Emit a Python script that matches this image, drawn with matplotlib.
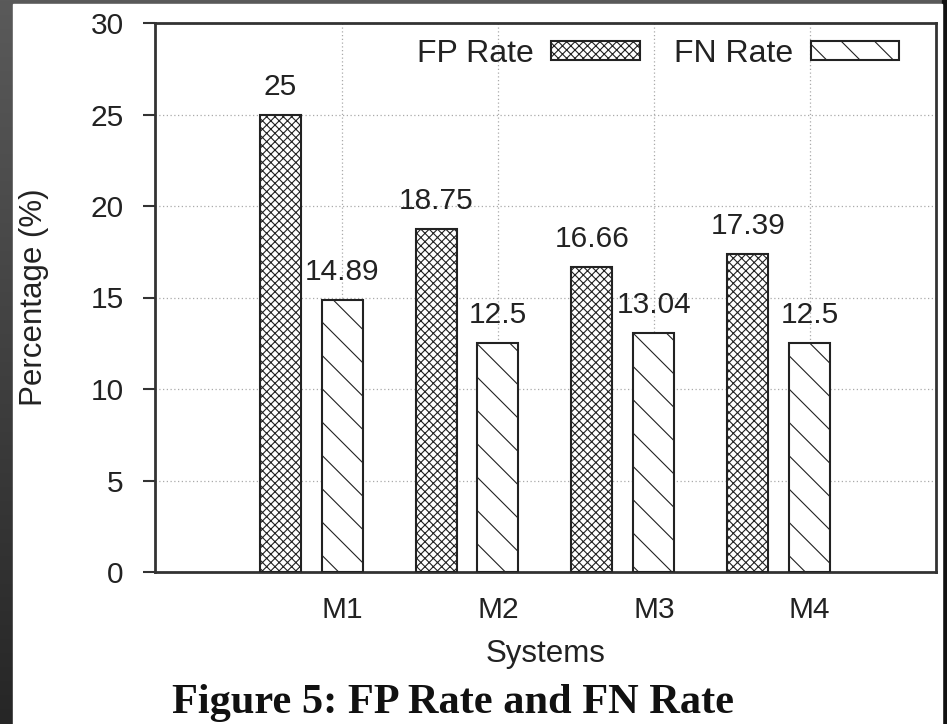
import numpy as np
import matplotlib
matplotlib.use('Agg')
import matplotlib.pyplot as plt
from matplotlib.patches import Rectangle

plt.rcParams['font.family'] = ['Liberation Sans', 'DejaVu Sans']
plt.rcParams['hatch.linewidth'] = 0.8

# values
systems = ['M1', 'M2', 'M3', 'M4']
fp_rate = [25, 18.75, 16.66, 17.39]
fn_rate = [14.89, 12.5, 13.04, 12.5]
yticks = [0, 5, 10, 15, 20, 25, 30]

W, H = 947, 724
fig = plt.figure(figsize=(W / 100, H / 100), dpi=100)

# dark photo border + white page behind the plot
bg = fig.add_axes([0, 0, 1, 1], zorder=-10)
grad = np.linspace(0, 1, 256).reshape(-1, 1)
bg.imshow(grad, cmap=matplotlib.colors.LinearSegmentedColormap.from_list('bd', ['#5a5a5a', '#262626']),
          extent=[0, W, H, 0], aspect='auto')
bg.add_patch(Rectangle((942, 0), 5, H, color='#111111'))
bg.add_patch(Rectangle((13, 4), 929, H - 4, color='white'))
bg.set_xlim(0, W)
bg.set_ylim(H, 0)
bg.axis('off')

# main axes (pixel box measured on the reference)
left, right, top, bottom = 155, 936, 23, 572
ax = fig.add_axes([left / W, (H - bottom) / H, (right - left) / W, (bottom - top) / H])

x = np.arange(len(systems))
off = 0.397
width = 0.263
txt = '#222222'
fs = 21.5

ax.bar(x - off, fp_rate, width, color='white', edgecolor='#222222', hatch='xxxx',
       linewidth=1.5, label='FP Rate', zorder=3)
ax.bar(x, fn_rate, width, color='white', edgecolor='#222222', hatch='\\',
       linewidth=1.5, label='FN Rate', zorder=3)

for xs, vals in [(x - off, fp_rate), (x, fn_rate)]:
    for xi, v in zip(xs, vals):
        ax.annotate(f'{v:g}', (xi, v), xytext=(0, 10), textcoords='offset points',
                    ha='center', va='bottom', fontsize=fs, color=txt)

ax.set_xlim(-1.2, 3.81)
ax.set_ylim(0, 30)
ax.set_yticks(yticks)
ax.set_xticks(x)
ax.set_xticklabels(systems)
ax.tick_params(axis='y', direction='out', length=8.6, width=1.5, pad=14,
               labelsize=fs, labelcolor=txt, color='#333333')
ax.tick_params(axis='x', length=0, pad=17, labelsize=fs, labelcolor=txt)

ax.grid(True, linestyle=(0, (1, 2)), color='#aaaaaa', linewidth=0.9)
ax.set_axisbelow(True)
for s in ax.spines.values():
    s.set_linewidth(2)
    s.set_color('#333333')

ax.set_ylabel('Percentage (%)', fontsize=22.5, color=txt)
ax.yaxis.set_label_coords(-0.136, 0.5)
ax.set_xlabel('Systems', fontsize=22.5, color=txt, va='top')
ax.xaxis.set_label_coords(0.5, -0.122)

ax.legend(ncol=2, markerfirst=False, frameon=False, loc='upper right',
          bbox_to_anchor=(0.9526, 0.971), borderaxespad=0, borderpad=0,
          handlelength=2.76, handleheight=0.55, handletextpad=0.56,
          columnspacing=1.07, fontsize=23, labelcolor=txt)

fig.text(453 / W, 1 - 713 / H, 'Figure 5: FP Rate and FN Rate', ha='center', va='baseline',
         fontsize=30.5, family=['Liberation Serif', 'DejaVu Serif'], weight='bold', color='#111111')

fig.savefig('out.png', dpi=100)
